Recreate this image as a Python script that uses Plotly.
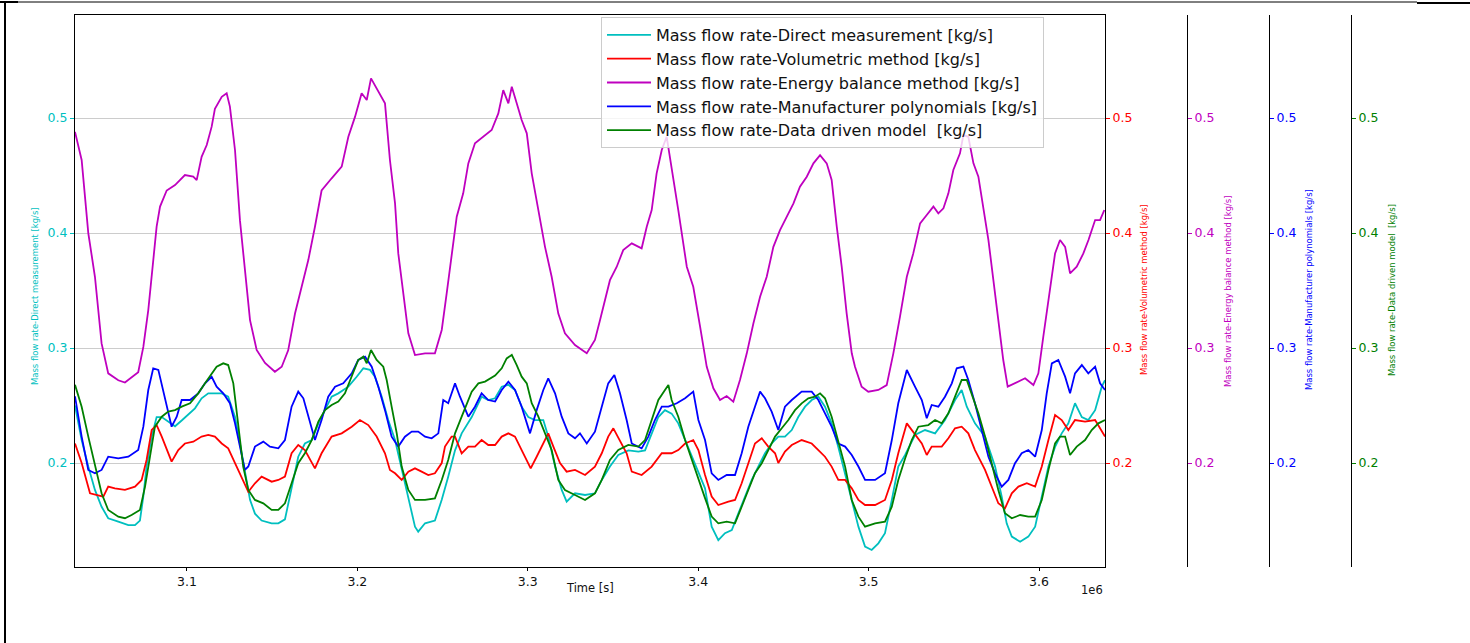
import plotly.graph_objects as go

# ---------------- data (time in units of 1e6 s, mass flow in kg/s) ----------------
direct_t = [3.0343,3.0382,3.0421,3.0460,3.0499,3.0538,3.0597,3.0656,3.0695,3.0724,3.0744,3.0763,3.0793,3.0822,3.0852,3.0890,3.0930,3.0969,3.1008,3.1047,3.1086,3.1125,3.1164,3.1204,3.1242,3.1282,3.1311,3.1340,3.1370,3.1399,3.1438,3.1497,3.1536,3.1575,3.1614,3.1653,3.1692,3.1732,3.1771,3.1810,3.1849,3.1888,3.1947,3.1996,3.2035,3.2074,3.2103,3.2143,3.2181,3.2221,3.2260,3.2299,3.2338,3.2357,3.2397,3.2455,3.2495,3.2533,3.2573,3.2612,3.2671,3.2729,3.2768,3.2808,3.2847,3.2886,3.2925,3.2964,3.3003,3.3042,3.3091,3.3120,3.3160,3.3199,3.3228,3.3277,3.3336,3.3394,3.3434,3.3482,3.3531,3.3590,3.3649,3.3688,3.3727,3.3766,3.3805,3.3844,3.3883,3.3923,3.3962,3.4001,3.4040,3.4079,3.4118,3.4157,3.4197,3.4235,3.4275,3.4314,3.4353,3.4392,3.4431,3.4470,3.4509,3.4549,3.4587,3.4627,3.4666,3.4705,3.4744,3.4783,3.4822,3.4862,3.4901,3.4940,3.4979,3.5018,3.5057,3.5096,3.5136,3.5174,3.5214,3.5272,3.5331,3.5390,3.5448,3.5507,3.5546,3.5576,3.5624,3.5683,3.5742,3.5781,3.5810,3.5840,3.5889,3.5937,3.5977,3.6016,3.6055,3.6094,3.6133,3.6172,3.6211,3.6251,3.6289,3.6329,3.6368,3.6387]
direct_v = [0.250,0.220,0.197,0.1766,0.162,0.152,0.149,0.146,0.146,0.150,0.171,0.197,0.223,0.240,0.240,0.236,0.232,0.237,0.242,0.2476,0.2563,0.2606,0.2606,0.2606,0.2577,0.240,0.217,0.191,0.168,0.156,0.150,0.1476,0.1476,0.151,0.1795,0.2055,0.217,0.220,0.2345,0.246,0.2577,0.2606,0.2664,0.275,0.2824,0.281,0.275,0.2577,0.2374,0.220,0.194,0.168,0.1447,0.1403,0.1476,0.150,0.168,0.188,0.211,0.2258,0.240,0.2577,0.2548,0.2563,0.2664,0.268,0.2635,0.249,0.240,0.2374,0.2374,0.223,0.197,0.1766,0.1664,0.1737,0.1722,0.1737,0.1853,0.197,0.207,0.211,0.2099,0.211,0.2258,0.240,0.246,0.243,0.2345,0.220,0.2055,0.191,0.178,0.1447,0.133,0.139,0.1418,0.156,0.171,0.1853,0.197,0.2085,0.217,0.223,0.223,0.2287,0.240,0.249,0.2548,0.2577,0.249,0.2345,0.214,0.191,0.168,0.1447,0.1273,0.1244,0.1302,0.139,0.168,0.197,0.207,0.2244,0.2287,0.2258,0.2374,0.2548,0.2635,0.249,0.2345,0.223,0.197,0.1708,0.1476,0.136,0.1316,0.136,0.1447,0.1708,0.197,0.214,0.2258,0.2345,0.252,0.240,0.2374,0.246,0.2664,0.272]

volumetric_t = [3.0343,3.0382,3.0431,3.0479,3.0509,3.0538,3.0577,3.0636,3.0695,3.0734,3.0763,3.0793,3.0822,3.0852,3.0881,3.0910,3.0949,3.0988,3.1037,3.1086,3.1125,3.1164,3.1204,3.1242,3.1282,3.1321,3.1360,3.1399,3.1438,3.1497,3.1536,3.1575,3.1614,3.1653,3.1692,3.1751,3.1790,3.1849,3.1908,3.1967,3.2015,3.2064,3.2113,3.2162,3.2191,3.2221,3.2260,3.2299,3.2338,3.2377,3.2416,3.2455,3.2495,3.2514,3.2553,3.2573,3.2612,3.2651,3.2690,3.2729,3.2768,3.2808,3.2847,3.2886,3.2925,3.2964,3.3003,3.3017,3.3052,3.3082,3.3120,3.3150,3.3189,3.3228,3.3277,3.3336,3.3394,3.3434,3.3472,3.3502,3.3541,3.3580,3.3610,3.3668,3.3727,3.3786,3.3844,3.3883,3.3923,3.3971,3.4001,3.4040,3.4079,3.4118,3.4177,3.4216,3.4255,3.4294,3.4333,3.4373,3.4411,3.4451,3.4470,3.4509,3.4549,3.4607,3.4666,3.4705,3.4744,3.4783,3.4822,3.4862,3.4901,3.4940,3.4979,3.5038,3.5096,3.5136,3.5174,3.5224,3.5282,3.5312,3.5341,3.5370,3.5429,3.5468,3.5507,3.5546,3.5585,3.5624,3.5683,3.5722,3.5761,3.5800,3.5840,3.5879,3.5928,3.5977,3.6016,3.6055,3.6094,3.6133,3.6172,3.6211,3.6270,3.6329,3.6387]
volumetric_v = [0.217,0.200,0.1737,0.1722,0.1708,0.1795,0.178,0.1766,0.1795,0.1853,0.2027,0.2287,0.233,0.223,0.2113,0.2012,0.2113,0.217,0.2186,0.223,0.2244,0.223,0.217,0.2128,0.200,0.1882,0.175,0.1824,0.1882,0.1838,0.1853,0.1882,0.2085,0.2157,0.2113,0.1954,0.2085,0.223,0.2258,0.2316,0.2374,0.233,0.223,0.2085,0.194,0.1911,0.1853,0.1925,0.1954,0.1925,0.1896,0.1911,0.200,0.2143,0.223,0.223,0.2085,0.2143,0.2143,0.220,0.2157,0.2157,0.223,0.2258,0.223,0.2113,0.200,0.1954,0.2055,0.2143,0.2258,0.2143,0.200,0.1925,0.194,0.1896,0.1969,0.2085,0.223,0.2302,0.220,0.2085,0.1925,0.1896,0.1969,0.2085,0.2085,0.2113,0.217,0.220,0.2113,0.1896,0.1708,0.1635,0.1664,0.1679,0.1824,0.1998,0.217,0.2215,0.2143,0.2085,0.200,0.210,0.2157,0.220,0.217,0.2113,0.2055,0.1969,0.1853,0.1853,0.178,0.1679,0.1635,0.1635,0.1679,0.1853,0.2085,0.2345,0.223,0.217,0.207,0.2143,0.2143,0.2215,0.2302,0.2316,0.2258,0.2113,0.194,0.1795,0.165,0.1606,0.1737,0.1795,0.1824,0.1795,0.197,0.220,0.2418,0.2374,0.2287,0.2374,0.236,0.2374,0.223]

energy_t = [3.0343,3.0382,3.0421,3.0460,3.0499,3.0538,3.0597,3.0636,3.0714,3.0744,3.0773,3.0802,3.0822,3.0842,3.0881,3.0930,3.0988,3.1037,3.1057,3.1086,3.1116,3.1145,3.1164,3.1204,3.1233,3.1252,3.1282,3.1311,3.1340,3.1370,3.1409,3.1458,3.1516,3.1556,3.1594,3.1634,3.1673,3.1712,3.1751,3.1790,3.1849,3.1908,3.1947,3.1986,3.2025,3.2055,3.2080,3.2123,3.2162,3.2191,3.2221,3.2240,3.2269,3.2299,3.2338,3.2397,3.2455,3.2495,3.2524,3.2553,3.2583,3.2621,3.2651,3.2690,3.2739,3.2788,3.2827,3.2856,3.2886,3.2906,3.2935,3.2964,3.2994,3.3023,3.3062,3.3101,3.3140,3.3179,3.3218,3.3277,3.3346,3.3394,3.3424,3.3453,3.3482,3.3522,3.3560,3.3610,3.3668,3.3698,3.3727,3.3756,3.3786,3.3815,3.3844,3.3883,3.3933,3.3971,3.4011,3.4050,3.4089,3.4128,3.4167,3.4206,3.4245,3.4285,3.4324,3.4363,3.4402,3.4441,3.4480,3.4520,3.4559,3.4597,3.4637,3.4676,3.4715,3.4754,3.4783,3.4813,3.4842,3.4871,3.4901,3.4920,3.4959,3.4998,3.5057,3.5106,3.5145,3.5184,3.5224,3.5262,3.5302,3.5341,3.5380,3.5409,3.5439,3.5468,3.5497,3.5536,3.5556,3.5585,3.5615,3.5644,3.5673,3.5703,3.5732,3.5761,3.5790,3.5816,3.5859,3.5918,3.5967,3.5996,3.6025,3.6065,3.6094,3.6123,3.6153,3.6182,3.6221,3.6260,3.6290,3.6329,3.6358,3.6383]
energy_v = [0.488,0.4635,0.400,0.362,0.304,0.278,0.272,0.270,0.279,0.301,0.333,0.3765,0.4055,0.423,0.437,0.4417,0.4504,0.449,0.446,0.4663,0.4765,0.4925,0.508,0.5185,0.5215,0.510,0.472,0.411,0.371,0.3243,0.2983,0.287,0.2794,0.2837,0.298,0.330,0.3533,0.3765,0.4055,0.437,0.4476,0.4577,0.4837,0.501,0.5215,0.5157,0.5345,0.523,0.5128,0.4635,0.4258,0.3823,0.3476,0.3128,0.2939,0.2954,0.2954,0.3157,0.3476,0.3823,0.4142,0.4345,0.4606,0.478,0.4837,0.4896,0.504,0.5243,0.5128,0.5272,0.5128,0.4983,0.4867,0.4519,0.420,0.388,0.362,0.330,0.3128,0.3026,0.2954,0.307,0.3243,0.3417,0.359,0.3707,0.3852,0.391,0.3867,0.4055,0.420,0.4519,0.4722,0.4837,0.4548,0.420,0.3707,0.3533,0.3186,0.2837,0.265,0.2548,0.2583,0.2533,0.2722,0.2954,0.3215,0.3446,0.362,0.388,0.4026,0.4142,0.4258,0.4403,0.449,0.4606,0.4678,0.4606,0.4461,0.4055,0.3707,0.3302,0.2954,0.2837,0.2664,0.262,0.2635,0.2678,0.2954,0.3273,0.362,0.3823,0.4084,0.4157,0.423,0.4171,0.4215,0.4345,0.4548,0.4693,0.4852,0.4837,0.4606,0.449,0.423,0.3939,0.359,0.3243,0.2896,0.2664,0.2693,0.2737,0.2678,0.278,0.3099,0.3533,0.3823,0.3939,0.388,0.365,0.3707,0.3823,0.3939,0.4113,0.4113,0.420]

manufacturer_t = [3.0343,3.0382,3.0421,3.0460,3.0499,3.0538,3.0597,3.0656,3.0714,3.0744,3.0773,3.0802,3.0832,3.0861,3.0881,3.0910,3.0940,3.0969,3.1018,3.1066,3.1106,3.1145,3.1174,3.1213,3.1252,3.1282,3.1311,3.1340,3.1360,3.1399,3.1448,3.1487,3.1536,3.1575,3.1614,3.1653,3.1683,3.1712,3.1751,3.1790,3.1829,3.1869,3.1917,3.1967,3.2005,3.2045,3.2084,3.2123,3.2162,3.2201,3.2240,3.2279,3.2319,3.2357,3.2397,3.2436,3.2475,3.2504,3.2533,3.2573,3.2602,3.2651,3.2690,3.2729,3.2768,3.2808,3.2847,3.2886,3.2925,3.2964,3.3013,3.3052,3.3091,3.3120,3.3160,3.3199,3.3238,3.3277,3.3306,3.3346,3.3394,3.3434,3.3472,3.3508,3.3541,3.3580,3.3610,3.3668,3.3707,3.3746,3.3786,3.3825,3.3874,3.3923,3.3971,3.4001,3.4040,3.4079,3.4118,3.4167,3.4216,3.4255,3.4294,3.4333,3.4363,3.4392,3.4431,3.4470,3.4509,3.4549,3.4607,3.4666,3.4705,3.4744,3.4783,3.4822,3.4862,3.4901,3.4940,3.4979,3.5038,3.5096,3.5136,3.5174,3.5224,3.5272,3.5312,3.5341,3.5370,3.5409,3.5448,3.5488,3.5517,3.5556,3.5585,3.5624,3.5664,3.5703,3.5742,3.5781,3.5820,3.5859,3.5898,3.5937,3.5977,3.6016,3.6045,3.6075,3.6113,3.6153,3.6182,3.6211,3.6251,3.6289,3.6329,3.6358,3.6387]
manufacturer_v = [0.258,0.223,0.194,0.1911,0.194,0.2055,0.204,0.2055,0.2113,0.2316,0.2635,0.2824,0.281,0.2635,0.249,0.2316,0.2403,0.2548,0.2548,0.2606,0.2693,0.275,0.2664,0.2606,0.252,0.2345,0.2143,0.194,0.197,0.2143,0.2186,0.2143,0.2128,0.220,0.249,0.2621,0.2563,0.2403,0.220,0.2374,0.2577,0.2664,0.2693,0.278,0.2896,0.2925,0.2838,0.2664,0.246,0.2229,0.2143,0.2229,0.2273,0.2273,0.2229,0.2215,0.2258,0.2548,0.252,0.2693,0.2577,0.2403,0.249,0.2606,0.2548,0.2535,0.2635,0.2708,0.2635,0.249,0.2258,0.246,0.2635,0.2737,0.2606,0.2403,0.2258,0.2215,0.2258,0.217,0.2273,0.249,0.2693,0.2766,0.2606,0.2374,0.217,0.2128,0.223,0.2374,0.249,0.249,0.252,0.2563,0.2621,0.2374,0.220,0.191,0.1853,0.1896,0.1896,0.2085,0.2316,0.249,0.2621,0.2563,0.2447,0.2287,0.249,0.2548,0.2621,0.2621,0.2548,0.2432,0.2316,0.217,0.2143,0.207,0.197,0.1853,0.1853,0.1911,0.220,0.252,0.2809,0.2664,0.2548,0.2389,0.2505,0.249,0.2577,0.2693,0.2824,0.2838,0.2722,0.252,0.2287,0.2055,0.191,0.1795,0.1853,0.1998,0.2085,0.2113,0.2055,0.2287,0.2606,0.2867,0.2896,0.2751,0.2606,0.278,0.2852,0.278,0.2838,0.2693,0.2635]

datadriven_t = [3.0343,3.0382,3.0421,3.0460,3.0499,3.0538,3.0597,3.0636,3.0675,3.0724,3.0754,3.0783,3.0812,3.0852,3.0890,3.0930,3.0969,3.1018,3.1066,3.1106,3.1145,3.1174,3.1213,3.1242,3.1272,3.1301,3.1330,3.1360,3.1399,3.1448,3.1497,3.1536,3.1575,3.1614,3.1653,3.1692,3.1732,3.1771,3.1810,3.1849,3.1888,3.1927,3.1967,3.2005,3.2035,3.2055,3.2080,3.2113,3.2152,3.2172,3.2201,3.2231,3.2260,3.2299,3.2338,3.2397,3.2455,3.2495,3.2533,3.2573,3.2612,3.2671,3.2710,3.2749,3.2808,3.2847,3.2876,3.2906,3.2935,3.2964,3.2994,3.3023,3.3062,3.3101,3.3140,3.3179,3.3218,3.3277,3.3336,3.3394,3.3434,3.3482,3.3531,3.3590,3.3649,3.3688,3.3727,3.3766,3.3805,3.3825,3.3844,3.3883,3.3923,3.3962,3.4001,3.4040,3.4079,3.4118,3.4167,3.4216,3.4255,3.4294,3.4333,3.4373,3.4411,3.4451,3.4490,3.4529,3.4568,3.4607,3.4646,3.4685,3.4715,3.4744,3.4783,3.4822,3.4862,3.4901,3.4940,3.4979,3.5038,3.5096,3.5136,3.5174,3.5214,3.5253,3.5292,3.5350,3.5390,3.5429,3.5468,3.5507,3.5546,3.5576,3.5605,3.5644,3.5683,3.5722,3.5761,3.5800,3.5840,3.5889,3.5937,3.5977,3.6016,3.6055,3.6094,3.6123,3.6153,3.6182,3.6221,3.6270,3.6309,3.6348,3.6387]
datadriven_v = [0.268,0.249,0.223,0.197,0.1737,0.1592,0.1534,0.152,0.1548,0.1592,0.1795,0.2055,0.2316,0.2403,0.2447,0.246,0.249,0.252,0.2606,0.2693,0.278,0.2838,0.2867,0.2852,0.2693,0.2345,0.197,0.1766,0.1679,0.165,0.1592,0.1592,0.165,0.1824,0.1998,0.2085,0.220,0.236,0.246,0.2505,0.2534,0.2606,0.2751,0.2896,0.2925,0.2867,0.2983,0.2896,0.2838,0.2722,0.249,0.2258,0.1969,0.1766,0.1679,0.1679,0.1693,0.1853,0.2027,0.2258,0.2403,0.2621,0.2693,0.2708,0.276,0.2824,0.291,0.294,0.2852,0.2751,0.2693,0.252,0.2403,0.2258,0.2113,0.1853,0.1766,0.1722,0.1679,0.1737,0.1853,0.2027,0.2113,0.2157,0.2143,0.220,0.2374,0.2548,0.2635,0.2679,0.2548,0.2403,0.220,0.2027,0.1853,0.1695,0.1534,0.1476,0.149,0.1476,0.162,0.1766,0.1911,0.1998,0.2113,0.223,0.2302,0.2374,0.246,0.2519,0.2563,0.2577,0.2606,0.2563,0.2403,0.220,0.1969,0.1679,0.1534,0.1447,0.1476,0.149,0.162,0.1853,0.204,0.220,0.2316,0.233,0.2374,0.2345,0.2432,0.2577,0.2722,0.2722,0.2606,0.2432,0.223,0.1998,0.1766,0.1563,0.152,0.1548,0.1534,0.1534,0.1679,0.194,0.2171,0.223,0.223,0.207,0.2143,0.220,0.2287,0.2345,0.2374]

series_names = [
    "Mass flow rate-Direct measurement [kg/s]",
    "Mass flow rate-Volumetric method [kg/s]",
    "Mass flow rate-Energy balance method [kg/s]",
    "Mass flow rate-Manufacturer polynomials [kg/s]",
    "Mass flow rate-Data driven model  [kg/s]",
]
axis_titles = series_names
x_ticks = [3.1, 3.2, 3.3, 3.4, 3.5, 3.6]
y_ticks = [0.2, 0.3, 0.4, 0.5]
x_scale = 1e6

# ---------------- styling ----------------
colors = ["#00BFBF", "#FF0000", "#BF00BF", "#0000FF", "#008000"]
yaxes = ["y", "y2", "y3", "y4", "y5"]
series = [(direct_t, direct_v), (volumetric_t, volumetric_v), (energy_t, energy_v),
          (manufacturer_t, manufacturer_v), (datadriven_t, datadriven_v)]

YR = [0.1096, 0.5896]
XR = [3.0343 * x_scale, 3.6387 * x_scale]
TICKFONT = "DejaVu Sans"
NARROW = "DejaVu Sans Condensed, Liberation Sans Narrow, sans-serif"

fig = go.Figure()
for (t, v), name, col, ya in zip(series, series_names, colors, yaxes):
    fig.add_trace(go.Scatter(
        x=[ti * x_scale for ti in t], y=v, name=name, mode="lines",
        line=dict(color=col, width=1.8), yaxis=ya,
    ))

L, R, T, B = 75, 70, 15, 76
W, H = 1470, 643
PW = W - L - R
PH = H - T - B
def px(xp):
    return (xp - L) / PW
def py(yp):
    return (H - B - yp) / PH

xdom_end = px(1105)

def yax(color, **kw):
    d = dict(range=YR, tickvals=y_ticks, ticktext=[f"{v:.1f}" for v in y_ticks],
             ticks="outside", ticklen=4, tickwidth=1, tickcolor=color,
             tickfont=dict(family=TICKFONT, size=12.5, color=color),
             showline=True, linecolor="black", linewidth=1,
             showgrid=False, zeroline=False)
    d.update(kw)
    return d

fig.update_layout(
    width=W, height=H,
    margin=dict(l=L, r=R, t=T, b=B),
    paper_bgcolor="white", plot_bgcolor="white",
    showlegend=True,
    xaxis=dict(domain=[0, xdom_end], range=XR,
               tickvals=[v * x_scale for v in x_ticks], ticktext=[f"{v:.1f}" for v in x_ticks],
               ticks="outside", ticklen=3, tickcolor="black",
               tickfont=dict(family=TICKFONT, size=12.5, color="#111"),
               showline=True, linecolor="black", mirror=True, showgrid=False, zeroline=False),
    yaxis=yax(colors[0], showgrid=True, gridcolor="#cccccc", gridwidth=1, mirror=True),
    yaxis2=yax(colors[1], overlaying="y", side="right", anchor="x"),
    yaxis3=yax(colors[2], overlaying="y", side="right", anchor="free", position=px(1187)),
    yaxis4=yax(colors[3], overlaying="y", side="right", anchor="free", position=px(1269)),
    yaxis5=yax(colors[4], overlaying="y", side="right", anchor="free", position=px(1351)),
    legend=dict(x=px(601), y=py(17), xanchor="left", yanchor="top",
                bgcolor="rgba(255,255,255,0.8)", bordercolor="#cccccc", borderwidth=1,
                font=dict(family=TICKFONT, size=16, color="#111"), itemwidth=44),
)

title_pos = [(35, 296), (1143, 290), (1227, 291), (1308, 290), (1391, 290)]
for (xp_, yp_), txt, col in zip(title_pos, axis_titles, colors):
    fig.add_annotation(x=px(xp_), y=py(yp_), xref="paper", yref="paper", text=txt,
                       showarrow=False, textangle=-90, xanchor="center", yanchor="middle",
                       font=dict(family=NARROW, size=9.4, color=col))

fig.add_annotation(x=px(590), y=py(588), xref="paper", yref="paper", text="Time [s]",
                   showarrow=False, xanchor="center", yanchor="middle",
                   font=dict(family=TICKFONT, size=11.5, color="#111"))
fig.add_annotation(x=px(1092), y=py(590), xref="paper", yref="paper", text="1e6",
                   showarrow=False, xanchor="center", yanchor="middle",
                   font=dict(family=TICKFONT, size=11.5, color="#111"))

# outer frame fragments of the original image
for x0, y0, x1, y1, w in [(5, 2, 5, 643, 2), (0, 2, 1417, 2, 1), (1417, 3, 1470, 3, 2), (0, 2, 18, 2, 2)]:
    fig.add_shape(type="line", xref="paper", yref="paper", x0=px(x0), y0=py(y0), x1=px(x1), y1=py(y1),
                  line=dict(color="black", width=w))

fig.write_html("out.html")
